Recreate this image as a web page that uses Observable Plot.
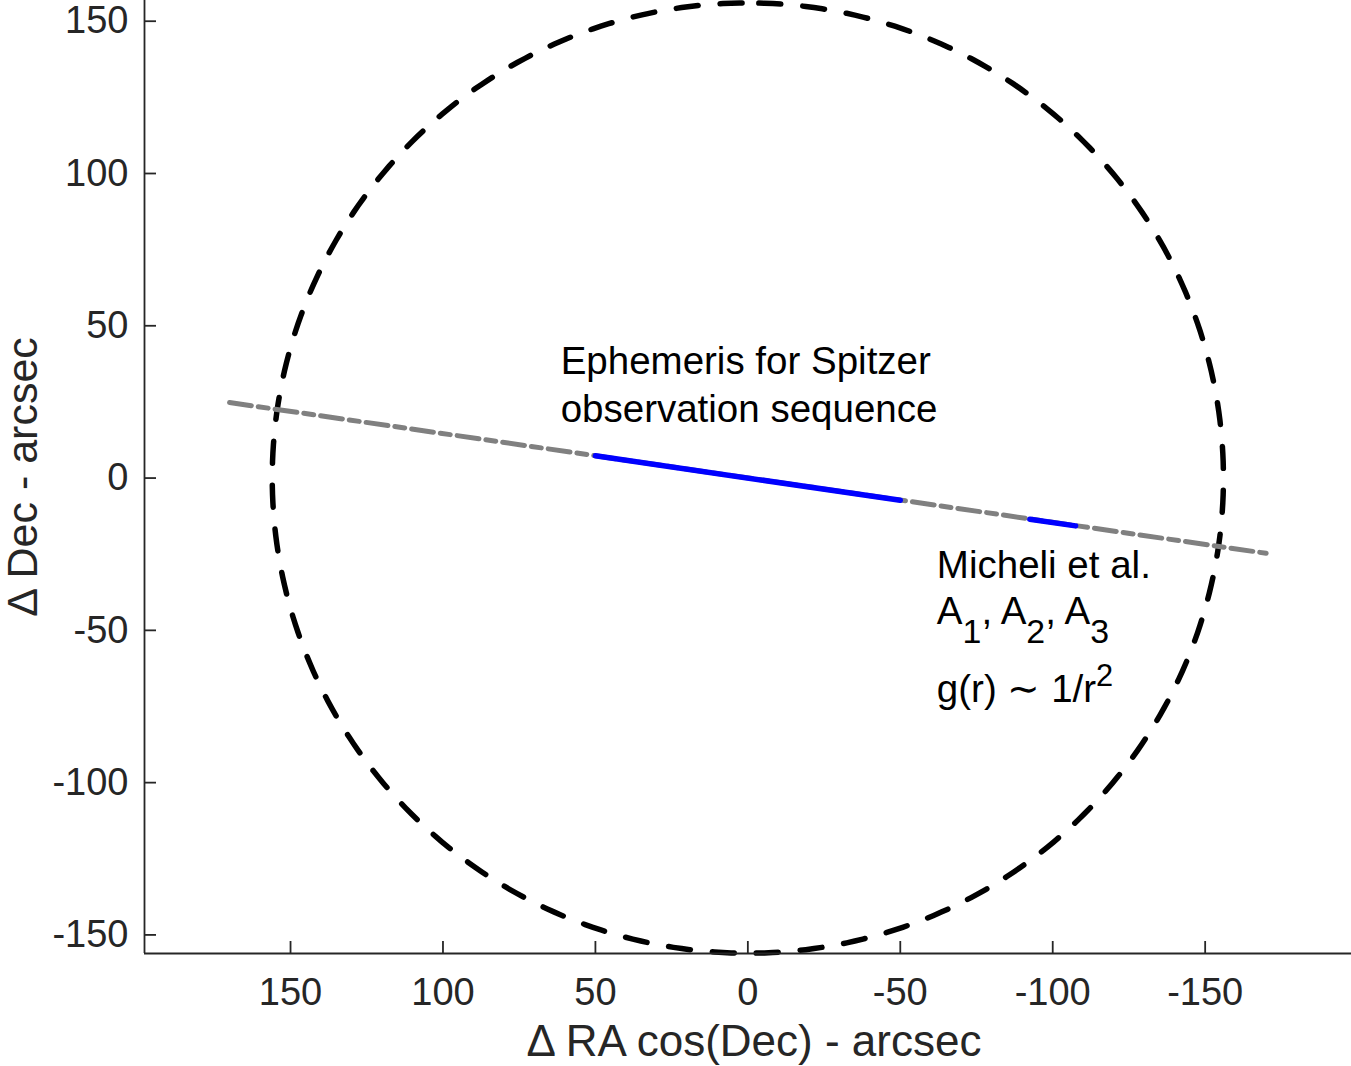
<!DOCTYPE html>
<html><head><meta charset="utf-8">
<script src="https://cdn.jsdelivr.net/npm/d3@7"></script>
<script src="https://cdn.jsdelivr.net/npm/@observablehq/plot@0.6"></script>
<style>body{margin:0;background:#fff} #chart svg{display:block}</style>
</head><body><div id="chart"></div>
<script>
// ---- data ----
const xTicks = [150, 100, 50, 0, -50, -100, -150];
const yTicks = [-150, -100, -50, 0, 50, 100, 150];
const xDomain = [197.9, -198];
const yDomain = [-156.1, 156.8];
const circleRadius = 156;                 // arcsec
const ephemerisRA = [170, -170];          // gray dash-dot ephemeris line
const ephemerisDec = [24.8, -24.7];
const spitzerRA = [50, -50];              // blue: Spitzer observation sequence
const spitzerDec = [7.3, -7.3];
const micheliRA = [-92.5, -107.5];        // blue: Micheli et al.
const micheliDec = [-13.5, -15.7];
const xLabel = "Δ RA cos(Dec) - arcsec";
const yLabel = "Δ Dec - arcsec";
const ephemNote = {ra: 61.4, dec: 31.2, text: "Ephemeris for Spitzer\nobservation sequence"};
const micheliNotes = [
  {ra: -62, dec: -28.7, text: "Micheli et al."},
  {ra: -62, dec: -43.8, text: "A_1, A_2, A_3"},
  {ra: -62, dec: -69.4, text: "g(r) ∼ 1/r^2"}
];

const toPts = (ras, decs) => ras.map((ra, i) => ({ra, dec: decs[i]}));
const circlePts = d3.range(0, 361).map(a => {
  const t = a * Math.PI / 180;
  return {ra: -circleRadius * Math.sin(t), dec: circleRadius * Math.cos(t)};
});

const FONT = "'Liberation Sans', Arial, Helvetica, sans-serif";
const AX = "#262626";
const noteSize = 38.5;

const plot = Plot.plot({
  width: 1351, height: 1066,
  marginLeft: 144, marginRight: 0, marginTop: 0, marginBottom: 113,
  style: {fontFamily: FONT, color: AX, background: "#fff", overflow: "visible"},
  x: {domain: xDomain},
  y: {domain: yDomain},
  marks: [
    Plot.line(circlePts, {x: "ra", y: "dec", stroke: "#000", strokeWidth: 5.5,
      strokeDasharray: "22 22", strokeDashoffset: 33}),
    Plot.line(toPts(ephemerisRA, ephemerisDec), {x: "ra", y: "dec", stroke: "#808080",
      strokeWidth: 5, strokeDasharray: "22 7 10 7"}),
    Plot.line(toPts(spitzerRA, spitzerDec), {x: "ra", y: "dec", stroke: "#0000ff", strokeWidth: 5.5}),
    Plot.line(toPts(micheliRA, micheliDec), {x: "ra", y: "dec", stroke: "#0000ff", strokeWidth: 5.5}),
    // axis lines
    Plot.ruleY([yDomain[0]], {x1: () => xDomain[0], x2: () => xDomain[1], stroke: AX, strokeWidth: 1.8}),
    Plot.ruleX([xDomain[0]], {y1: () => yDomain[0], y2: () => yDomain[1], stroke: AX, strokeWidth: 1.8}),
    // inward ticks
    Plot.ruleX(xTicks, {x: d => d, y1: () => yDomain[0], y2: () => yDomain[0], insetTop: -12, stroke: AX, strokeWidth: 1.8}),
    Plot.ruleY(yTicks, {y: d => d, x1: () => xDomain[0], x2: () => xDomain[0], insetRight: -12, stroke: AX, strokeWidth: 1.8}),
    Plot.axisX({ticks: xTicks, tickSize: 0, tickPadding: 25, tickFormat: d => String(d), fontSize: 38, label: null, fill: AX}),
    Plot.axisY({ticks: yTicks, tickSize: 0, tickPadding: 16, tickFormat: d => String(d), fontSize: 38, label: null, fill: AX}),
    Plot.text([xLabel], {text: d => d, frameAnchor: "bottom", lineAnchor: "middle", textAnchor: "middle",
      dy: 88, dx: 6, fontSize: 44, fill: AX}),
    Plot.text([yLabel], {text: d => d, frameAnchor: "left", lineAnchor: "middle", textAnchor: "middle",
      rotate: -90, dx: -121, fontSize: 43, fill: AX}),
    Plot.text([ephemNote], {x: "ra", y: "dec", text: "text", textAnchor: "start", lineHeight: 1.25,
      fontSize: noteSize, fill: "#000"}),
    Plot.text(micheliNotes, {x: "ra", y: "dec", text: "text", textAnchor: "start",
      fontSize: noteSize, fill: "#000"})
  ]
});

// sub/superscripts as real text tspans
const ns = "http://www.w3.org/2000/svg";
plot.querySelectorAll("text").forEach(el => {
  const s = el.textContent;
  if (!/[_^]/.test(s) || el.children.length) return;
  el.textContent = "";
  const fs = noteSize;
  let cur = 0, last = 0, m;
  const re = /([_^])(.)/g;
  const add = (str, target, small) => {
    const t = document.createElementNS(ns, "tspan");
    const dy = target - cur;
    if (dy) t.setAttribute("dy", dy);
    if (small) t.setAttribute("font-size", small);
    t.textContent = str;
    el.appendChild(t);
    cur = target;
  };
  while ((m = re.exec(s))) {
    if (m.index > last) add(s.slice(last, m.index), 0, null);
    if (m[1] === "_") add(m[2], 0.5 * fs, 0.88 * fs);
    else add(m[2], -0.42 * fs, 0.8 * fs);
    last = m.index + 2;
  }
  if (last < s.length) add(s.slice(last), 0, null);
});

document.getElementById("chart").appendChild(plot);
</script>
</body></html>
